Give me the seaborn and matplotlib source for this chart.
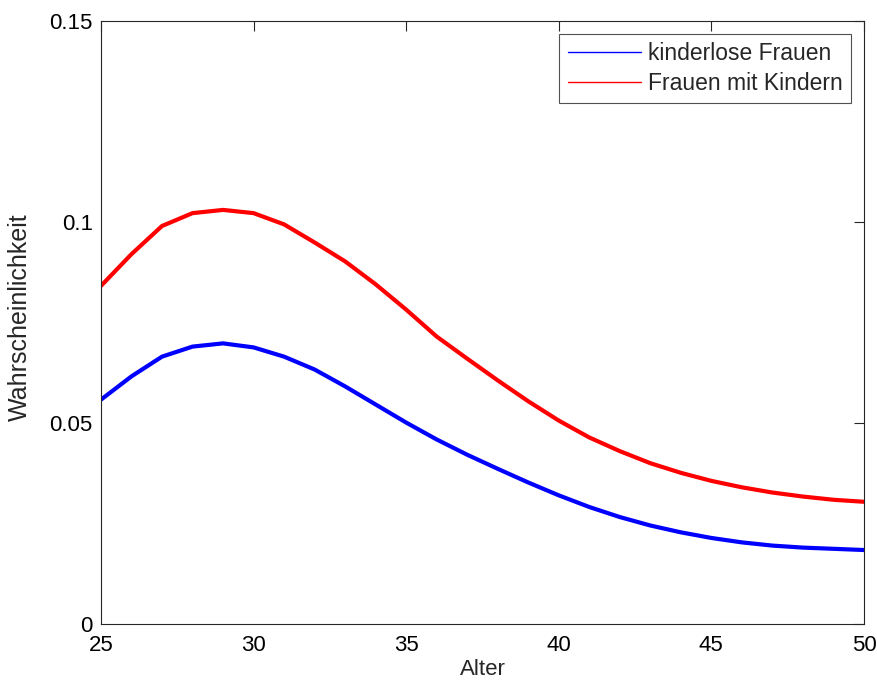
import numpy as np
import pandas as pd
import matplotlib
matplotlib.use("Agg")
import matplotlib.pyplot as plt
from matplotlib.lines import Line2D
import seaborn as sns

ages = list(range(25, 51))
kinderlos = [0.0558, 0.0616, 0.0665, 0.0690, 0.0698, 0.0688, 0.0665, 0.0633,
             0.0591, 0.0546, 0.0501, 0.0459, 0.0421, 0.0386, 0.0352, 0.0320,
             0.0291, 0.0266, 0.0245, 0.0228, 0.0214, 0.0203, 0.0195, 0.0190,
             0.0187, 0.0184]
mit_kindern = [0.0841, 0.0920, 0.0990, 0.1022, 0.1030, 0.1022, 0.0994, 0.0949,
               0.0902, 0.0845, 0.0782, 0.0715, 0.0660, 0.0606, 0.0554, 0.0506,
               0.0464, 0.0430, 0.0400, 0.0376, 0.0356, 0.0340, 0.0327, 0.0317,
               0.0309, 0.0304]
series_names = ["kinderlose Frauen", "Frauen mit Kindern"]
colors = ["#0000FF", "#FF0000"]

df = pd.DataFrame({
    "Alter": ages * 2,
    "Wahrscheinlichkeit": kinderlos + mit_kindern,
    "Gruppe": [series_names[0]] * len(ages) + [series_names[1]] * len(ages),
})

sns.set_style("white")
plt.rcParams["font.family"] = ["Liberation Sans", "DejaVu Sans"]

fig = plt.figure(figsize=(8.78, 6.83), dpi=100)
ax = fig.add_axes([0.1150, 0.0864, 0.8690, 0.8829])

sns.lineplot(data=df, x="Alter", y="Wahrscheinlichkeit", hue="Gruppe",
             palette=dict(zip(series_names, colors)), linewidth=3,
             legend=False, ax=ax)

ax.set_xlim(25, 50)
ax.set_ylim(0, 0.15)
ax.set_xticks([25, 30, 35, 40, 45, 50])
ax.set_yticks([0, 0.05, 0.1, 0.15])
ax.set_yticklabels(["0", "0.05", "0.1", "0.15"])
ax.tick_params(direction="in", length=7, width=0.8, labelsize=16,
               top=True, right=True, colors="#262626", labelcolor="black")
ax.tick_params(axis="x", pad=8)
ax.tick_params(axis="y", pad=6)
for s in ax.spines.values():
    s.set_visible(True)
    s.set_color("#262626")
    s.set_linewidth(0.8)
ax.set_xlabel("Alter", fontsize=16, labelpad=2)
ax.set_ylabel("Wahrscheinlichkeit", fontsize=18)
ax.yaxis.set_label_coords(-0.0904, 0.509)

handles = [Line2D([0], [0], color=c, lw=1) for c in colors]
leg = ax.legend(handles, series_names, loc="upper right", fontsize=16.5,
                frameon=True, fancybox=False, edgecolor="#262626",
                handlelength=3.2, borderpad=0.38, labelspacing=0.28,
                handletextpad=0.3, borderaxespad=0.55)
leg.get_frame().set_linewidth(0.8)

fig.savefig("out.png", dpi=100)
